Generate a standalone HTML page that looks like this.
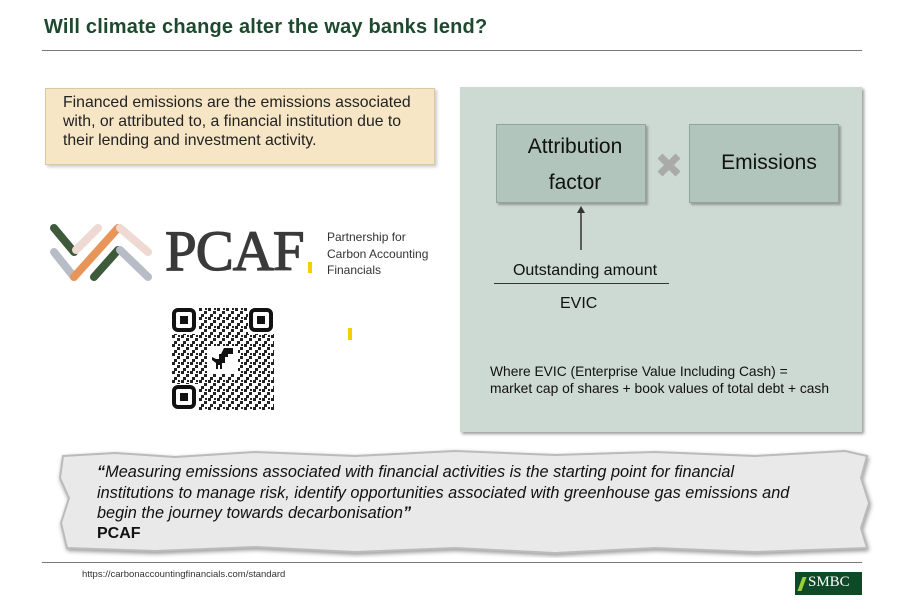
<!DOCTYPE html>
<html><head><meta charset="utf-8"><style>
*{margin:0;padding:0;box-sizing:border-box}
body{width:903px;height:605px;background:#fff;position:relative;overflow:hidden;font-family:"Liberation Sans",Arial,sans-serif;color:#111}
.a{position:absolute}
</style></head><body>
<div class="a" style="left:44px;top:16px;font-size:20px;font-weight:bold;color:#1d4a2e;letter-spacing:0.2px">Will climate change alter the way banks lend?</div>
<div class="a" style="left:42px;top:50px;width:820px;height:1px;background:#777"></div>

<div class="a" style="left:45px;top:88px;width:390px;height:77px;background:#f6e6c6;border:1px solid #d9c9a3;box-shadow:2px 2px 3px #ccc"></div>
<div class="a" style="left:63px;top:93px;white-space:nowrap;font-size:15.8px;line-height:19px;color:#222">Financed emissions are the emissions associated<br>with, or attributed to, a financial institution due to<br>their lending and investment activity.</div>

<svg class="a" style="left:48px;top:222px" width="110" height="62">
<g stroke-width="8" stroke-linecap="round">
<line x1="6" y1="6" x2="26" y2="30" stroke="#3d5a3a"/>
<line x1="28" y1="28" x2="50" y2="6" stroke="#efd9d3"/>
<line x1="6" y1="30" x2="26" y2="55" stroke="#b7bcc6"/>
<line x1="26" y1="55" x2="70" y2="6" stroke="#e8955a"/>
<line x1="72" y1="6" x2="100" y2="30" stroke="#efd9d3"/>
<line x1="46" y1="55" x2="70" y2="28" stroke="#3d5a3a"/>
<line x1="72" y1="28" x2="100" y2="55" stroke="#b7bcc6"/>
</g></svg>
<div class="a" style="left:165px;top:222px;font-family:'Liberation Serif',serif;font-size:57px;line-height:60px;color:#3a3a3a;letter-spacing:-1px;-webkit-text-stroke:1.2px #3a3a3a">PCAF</div>
<div class="a" style="left:308px;top:262px;width:4px;height:11px;background:#f2d000"></div>
<div class="a" style="left:327px;top:229px;font-size:12px;line-height:16.5px;color:#333">Partnership for<br>Carbon Accounting<br>Financials</div>
<div class="a" style="left:348px;top:328px;width:4px;height:12px;background:#f2d000"></div>

<svg class="a" style="left:172px;top:308px" width="102" height="102">
<defs><pattern id="p" width="9" height="9" patternUnits="userSpaceOnUse">
<rect x="0" y="0" width="3" height="3" fill="#222"/><rect x="5" y="3" width="3" height="3" fill="#222"/><rect x="2" y="6" width="3" height="3" fill="#222"/><rect x="6" y="0" width="2" height="2" fill="#222"/></pattern></defs>
<rect width="102" height="102" fill="url(#p)"/>
<g fill="#fff"><rect x="0" y="0" width="26" height="26"/><rect x="76" y="0" width="26" height="26"/><rect x="0" y="76" width="26" height="26"/><rect x="36" y="38" width="30" height="28"/></g>
<g fill="none" stroke="#111" stroke-width="4"><rect x="2" y="2" width="20" height="20" rx="4"/><rect x="79" y="2" width="20" height="20" rx="4"/><rect x="2" y="79" width="20" height="20" rx="4"/></g>
<g fill="#111"><rect x="8" y="8" width="8" height="8"/><rect x="85" y="8" width="8" height="8"/><rect x="8" y="85" width="8" height="8"/>
<path d="M52 40h9v6h-5v3h-3v6h-3v6h-2v-4h-2v4h-2v-6l-4-3v-3l4 2h3v-5h2z"/></g>
</svg>

<div class="a" style="left:460px;top:87px;width:402px;height:345px;background:#cdd9d3;box-shadow:2px 2px 3px #999"></div>
<div class="a" style="left:496px;top:124px;width:150px;height:79px;background:#b1c5bc;border:1px solid #8fa69b;box-shadow:2px 2px 2px #999"></div>
<div class="a" style="left:496px;top:129px;width:158px;text-align:center;font-size:21px;line-height:36px">Attribution<br>factor</div>
<div class="a" style="left:689px;top:124px;width:150px;height:79px;background:#b1c5bc;border:1px solid #8fa69b;box-shadow:2px 2px 2px #999"></div>
<div class="a" style="left:689px;top:151px;width:160px;text-align:center;font-size:21px">Emissions</div>
<svg class="a" style="left:655px;top:152px" width="28" height="26"><g stroke="#aaa" stroke-width="7"><line x1="5" y1="4" x2="23" y2="22"/><line x1="23" y1="4" x2="5" y2="22"/></g></svg>
<svg class="a" style="left:575px;top:205px" width="12" height="46"><line x1="6" y1="6" x2="6" y2="45" stroke="#333" stroke-width="1.5"/><path d="M2 8L6 1L10 8z" fill="#333"/></svg>
<div class="a" style="left:494px;top:262px;width:182px;text-align:center;font-size:16px">Outstanding amount</div>
<div class="a" style="left:494px;top:283px;width:175px;height:1px;background:#333"></div>
<div class="a" style="left:560px;top:295px;font-size:16px">EVIC</div>
<div class="a" style="left:490px;top:363px;font-size:13.8px;line-height:17px;white-space:nowrap">Where EVIC (Enterprise Value Including Cash) =<br>market cap of shares + book values of total debt + cash</div>

<svg class="a" style="left:55px;top:448px" width="820" height="110">
<path d="M8 8L60 5L120 9L200 4L300 8L400 3L500 7L600 4L700 8L790 3L812 8L806 30L814 55L806 80L812 100L700 104L600 100L500 105L400 100L300 104L200 99L100 103L12 100L6 75L14 50L5 30Z" fill="#e9e9e9" stroke="#bbb" stroke-width="2" filter="drop-shadow(1px 2px 2px #999)"/>
</svg>
<div class="a" style="left:97px;top:462px;white-space:nowrap;font-size:16.3px;line-height:20.5px;font-style:italic;color:#111"><b>“</b>Measuring emissions associated with financial activities is the starting point for financial<br>institutions to manage risk, identify opportunities associated with greenhouse gas emissions and<br>begin the journey towards decarbonisation<b>”</b></div>
<div class="a" style="left:97px;top:525px;font-size:16px;font-weight:bold">PCAF</div>

<div class="a" style="left:42px;top:562px;width:820px;height:1px;background:#777"></div>
<div class="a" style="left:82px;top:569px;font-size:9.5px;color:#333">https://carbonaccountingfinancials.com/standard</div>
<div class="a" style="left:795px;top:572px;width:67px;height:23px;background:#0f4a28"></div>
<div class="a" style="left:800px;top:577px;width:4px;height:14px;background:#9ccf3a;transform:skewX(-20deg)"></div>
<div class="a" style="left:808px;top:574px;font-family:'Liberation Serif',serif;font-size:15px;color:#fff">SMBC</div>
</body></html>
